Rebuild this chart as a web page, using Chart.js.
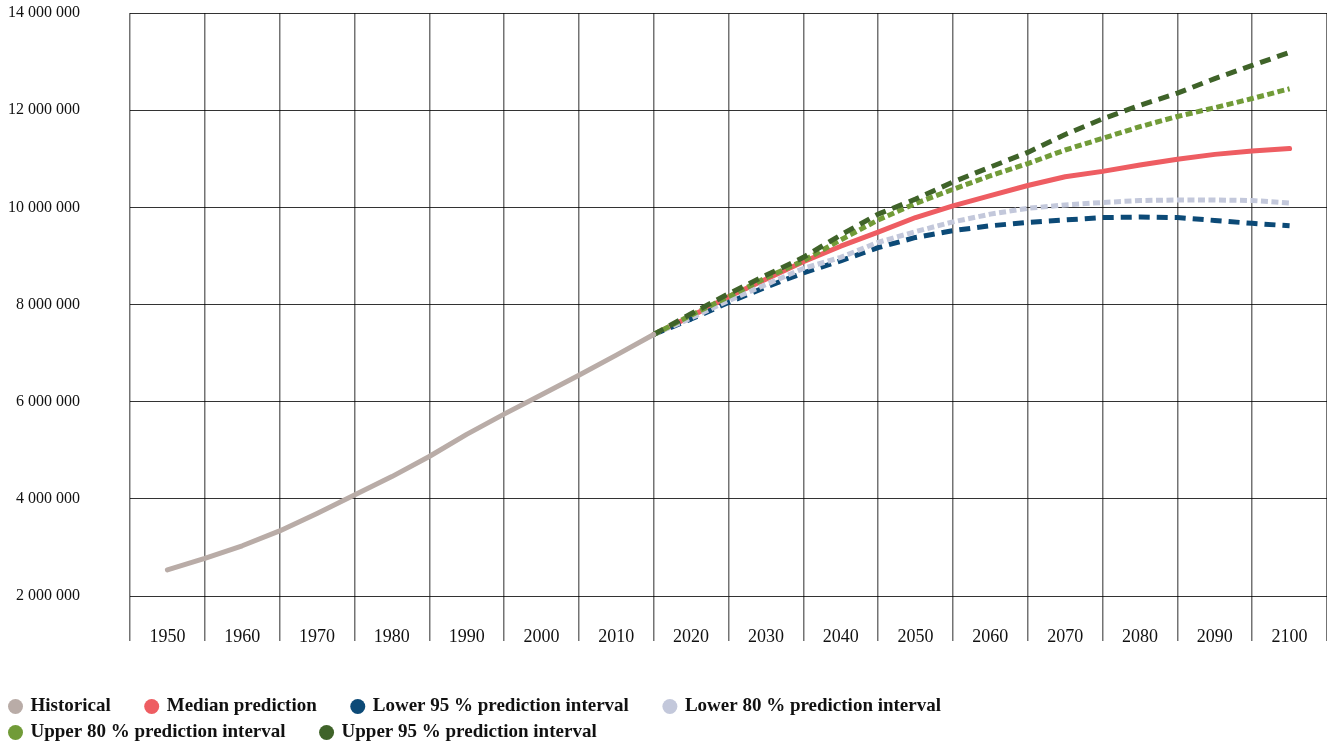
<!DOCTYPE html>
<html>
<head>
<meta charset="utf-8">
<script src="https://cdn.jsdelivr.net/npm/chart.js@4.4.1/dist/chart.umd.min.js"></script>
<style>
html,body{margin:0;padding:0;background:#ffffff;}
#wrap{width:1327px;height:747px;position:relative;}
</style>
</head>
<body>
<div id="wrap"><canvas id="c"></canvas></div>
<script>
// ---- data (world population, thousands) ----
const histYears = [1950,1955,1960,1965,1970,1975,1980,1985,1990,1995,2000,2005,2010,2015];
const historical = [2536000,2773000,3034000,3340000,3700000,4079000,4458000,4871000,5327000,5744000,6143000,6542000,6957000,7383000];

const projYears = [2015,2020,2025,2030,2035,2040,2045,2050,2055,2060,2065,2070,2075,2080,2085,2090,2095,2100];
const median  = [7383000,7760000,8160000,8520000,8880000,9200000,9490000,9790000,10030000,10240000,10450000,10630000,10740000,10870000,10990000,11090000,11160000,11210000];
const lower95 = [7383000,7700000,8040000,8360000,8650000,8900000,9170000,9380000,9520000,9620000,9690000,9740000,9790000,9800000,9790000,9730000,9670000,9620000];
const lower80 = [7383000,7720000,8080000,8410000,8740000,8970000,9280000,9500000,9700000,9860000,9980000,10050000,10100000,10140000,10150000,10150000,10140000,10090000];
const upper80 = [7383000,7780000,8160000,8550000,8900000,9330000,9740000,10080000,10370000,10650000,10900000,11180000,11420000,11660000,11870000,12050000,12240000,12440000];
const upper95 = [7383000,7810000,8220000,8600000,8970000,9430000,9860000,10170000,10520000,10830000,11130000,11500000,11820000,12100000,12350000,12650000,12920000,13190000];

const seriesLabels = ['Historical','Median prediction','Lower 95 % prediction interval','Lower 80 % prediction interval','Upper 80 % prediction interval','Upper 95 % prediction interval'];
const seriesColors = ['#b9aca7','#ee5d62','#0c4a77','#c3c8db','#719b38','#3f6329'];

const yMin = 2000000, yMax = 14000000, yStep = 2000000;
const xMin = 1945, xMax = 2105, xStep = 10;

// ---- helpers ----
const SERIF = "'Liberation Serif', 'DejaVu Serif', 'Times New Roman', serif";
function pts(xs, ys){ return xs.map((x, i) => ({x: x, y: ys[i]})); }
function fmt(v){ return String(Math.round(v)).replace(/\B(?=(\d{3})+(?!\d))/g, ' '); }

const legendFrame = {
  id: 'legendFrame',
  afterLayout(chart){
    const lg = chart.legend;
    if (lg) { lg.left = 3; lg.right = 1150; }
  }
};

const dashed = [11, 7];
const dotted = [7, 3.5];

const datasets = [
  {label: seriesLabels[0], data: pts(histYears, historical), color: seriesColors[0], dash: [], cap: 'round', order: 0},
  {label: seriesLabels[1], data: pts(projYears, median),     color: seriesColors[1], dash: [], cap: 'round', order: 5},
  {label: seriesLabels[2], data: pts(projYears, lower95),    color: seriesColors[2], dash: dashed, cap: 'butt', order: 4},
  {label: seriesLabels[3], data: pts(projYears, lower80),    color: seriesColors[3], dash: dotted, cap: 'butt', order: 3},
  {label: seriesLabels[4], data: pts(projYears, upper80),    color: seriesColors[4], dash: dotted, cap: 'butt', order: 2},
  {label: seriesLabels[5], data: pts(projYears, upper95),    color: seriesColors[5], dash: dashed, cap: 'butt', order: 1}
].map(d => ({
  label: d.label,
  data: d.data,
  borderColor: d.color,
  backgroundColor: d.color,
  borderWidth: 5,
  borderDash: d.dash,
  borderCapStyle: d.cap,
  borderJoinStyle: 'round',
  pointRadius: 0,
  pointHoverRadius: 0,
  tension: 0,
  fill: false,
  order: d.order
}));

new Chart(document.getElementById('c'), {
  type: 'line',
  data: { datasets: datasets },
  plugins: [legendFrame],
  options: {
    responsive: true,
    maintainAspectRatio: false,
    animation: false,
    events: [],
    layout: { padding: { top: 13, left: 0, right: 0, bottom: 0 } },
    scales: {
      x: {
        type: 'linear',
        min: xMin,
        max: xMax,
        border: { display: false },
        grid: { color: 'rgba(0,0,0,0.55)', lineWidth: 1.5, tickLength: 45, drawTicks: true },
        ticks: {
          stepSize: xStep,
          autoSkip: false,
          maxRotation: 0,
          minRotation: 0,
          labelOffset: 37.4,
          padding: -15,
          color: '#111',
          font: { family: SERIF, size: 18 },
          callback: (v) => (v + 5 <= 2100 ? String(v + 5) : '')
        },
        afterFit(s){ s.height = 94; s.paddingLeft = 0; s.paddingRight = 0; s.paddingTop = 0; s.paddingBottom = 0; }
      },
      y: {
        min: yMin,
        max: yMax,
        border: { display: false },
        grid: { color: 'rgba(0,0,0,0.8)', lineWidth: 1, drawTicks: false },
        ticks: {
          stepSize: yStep,
          padding: 50,
          color: '#111',
          font: { family: SERIF, size: 16 },
          callback: (v) => fmt(v)
        },
        afterFit(s){ s.width = 130; s.paddingTop = 0; s.paddingBottom = 0; s.paddingLeft = 0; s.paddingRight = 0; }
      }
    },
    plugins: {
      tooltip: { enabled: false },
      legend: {
        position: 'bottom',
        align: 'start',
        maxHeight: 57,
        labels: {
          usePointStyle: true,
          pointStyle: 'circle',
          boxWidth: 11,
          boxHeight: 10.6,
          padding: 7,
          color: '#111',
          font: { family: SERIF, size: 19, weight: 'bold' },
          generateLabels(chart){
            const items = Chart.defaults.plugins.legend.labels.generateLabels(chart);
            items.sort((a, b) => a.datasetIndex - b.datasetIndex);
            items.forEach(it => {
              const col = seriesColors[it.datasetIndex];
              it.fillStyle = col;
              it.strokeStyle = col;
              it.lineWidth = 0;
              it.lineDash = [];
              it.text = it.text + '\u2002\u2002\u2002';
            });
            return items;
          }
        }
      }
    }
  }
});
</script>
</body>
</html>
